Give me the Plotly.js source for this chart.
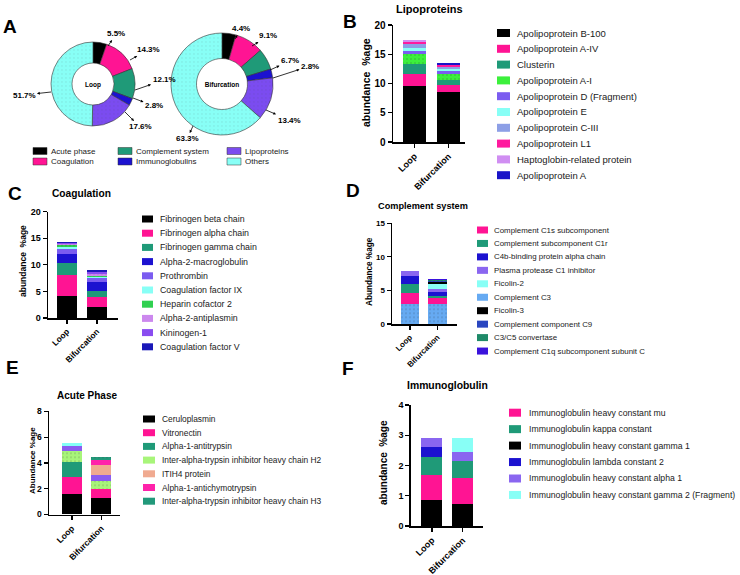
<!DOCTYPE html>
<html><head><meta charset="utf-8">
<script src="https://cdn.plot.ly/plotly-3.0.1.min.js"></script>
<style>html,body{margin:0;padding:0;background:#fff}</style>
</head><body>
<div id="chart" style="width:740px;height:575px"></div>
<script>
// ---------------- DATA ----------------
const groups = ["Loop", "Bifurcation"];

// Panel A (donuts)
const classLabels = ["Acute phase", "Coagulation", "Complement system", "Immunoglobulins", "Lipoproteins", "Others"];
const loopShares = [5.5, 14.3, 12.1, 2.8, 17.6, 51.7];
const bifShares = [4.4, 9.1, 6.7, 2.8, 13.4, 63.3];

// Panel B (Lipoproteins) - stack order bottom to top
const lipoNames = ["Apolipoprotein B-100", "Apolipoprotein A-IV", "Clusterin", "Apolipoprotein A-I", "Apolipoprotein D (Fragment)", "Apolipoprotein E", "Apolipoprotein C-III", "Apolipoprotein L1", "Haptoglobin-related protein", "Apolipoprotein A"];
const lipoLoop = [9.6, 2.0, 1.7, 1.7, 0.5, 0.5, 0.7, 0.4, 0.4, 0.0];
const lipoBif = [8.6, 1.1, 0.9, 1.0, 0.5, 0.4, 0.3, 0.3, 0.1, 0.3];

// Panel C (Coagulation)
const coagNames = ["Fibrinogen beta chain", "Fibrinogen alpha chain", "Fibrinogen gamma chain", "Alpha-2-macroglobulin", "Prothrombin", "Coagulation factor IX", "Heparin cofactor 2", "Alpha-2-antiplasmin", "Kininogen-1", "Coagulation factor V"];
const coagLoop = [4.1, 3.9, 2.3, 1.8, 0.9, 0.4, 0.3, 0.2, 0.1, 0.3];
const coagBif = [2.1, 1.8, 1.1, 1.7, 0.8, 0.2, 0.2, 0.3, 0.5, 0.4];

// Panel D (Complement system) - stack order
const compNames = ["Complement C3", "Complement C1s subcomponent", "Complement subcomponent C1r", "C4b-binding protein alpha chain", "Plasma protease C1 inhibitor", "Ficolin-2", "Ficolin-3", "Complement component C9", "C3/C5 convertase", "Complement C1q subcomponent subunit C"];
const compLoop = [3.0, 1.65, 1.3, 1.25, 0.7, 0, 0, 0, 0, 0];
const compBif = [3.0, 0.8, 0.4, 0.5, 0.45, 0.75, 0.4, 0.15, 0.1, 0.1];
const compLegend = ["Complement C1s subcomponent", "Complement subcomponent C1r", "C4b-binding protein alpha chain", "Plasma protease C1 inhibitor", "Ficolin-2", "Complement C3", "Ficolin-3", "Complement component C9", "C3/C5 convertase", "Complement C1q subcomponent subunit C"];

// Panel E (Acute Phase) - stack order (two segments are unlabelled in the figure)
const acuteNames = ["Ceruloplasmin", "Vitronectin", "Alpha-1-antitrypsin", "Inter-alpha-trypsin inhibitor heavy chain H2", "unlabelled (purple)", "ITIH4 protein", "Alpha-1-antichymotrypsin", "Inter-alpha-trypsin inhibitor heavy chain H3", "unlabelled (cyan)"];
const acuteLoop = [1.55, 1.38, 1.12, 0.85, 0.38, 0, 0, 0, 0.26];
const acuteBif = [1.3, 0.68, 0, 0.65, 0.44, 0.78, 0.38, 0.2, 0];
const acuteLegend = ["Ceruloplasmin", "Vitronectin", "Alpha-1-antitrypsin", "Inter-alpha-trypsin inhibitor heavy chain H2", "ITIH4 protein", "Alpha-1-antichymotrypsin", "Inter-alpha-trypsin inhibitor heavy chain H3"];

// Panel F (Immunoglobulin) - stack order
const immNames = ["Immunoglobulin heavy constant gamma 1", "Immunoglobulin heavy constant mu", "Immunoglobulin kappa constant", "Immunoglobulin lambda constant 2", "Immunoglobulin heavy constant alpha 1", "Immunoglobulin heavy constant gamma 2 (Fragment)"];
const immLoop = [0.86, 0.84, 0.58, 0.33, 0.29, 0];
const immBif = [0.73, 0.87, 0.55, 0, 0.31, 0.44];
const immLegend = ["Immunoglobulin heavy constant mu", "Immunoglobulin kappa constant", "Immunoglobulin heavy constant gamma 1", "Immunoglobulin lambda constant 2", "Immunoglobulin heavy constant alpha 1", "Immunoglobulin heavy constant gamma 2 (Fragment)"];

// ---------------- STYLES ----------------
const pieColors = ['#000000', '#ff1493', '#1f9a78', '#1c12d0', '#7b4cf0', '#88fff6'];
const piePat = ['', '', '', '', '.', '.'];
const lipoColors = ['#000000', '#ff1493', '#1f9a78', '#3cf03c', '#7b5cf0', '#88fff6', '#8d9fe6', '#ff1a9e', '#d08ef2', '#1a14c8'];
const lipoPat = ['', '', '', '.', '', '', '', '', '.', ''];
const coagColors = ['#000000', '#ff1493', '#1f9a78', '#1c12d0', '#7b5cf0', '#88fff6', '#30d050', '#cc88ee', '#8a4cf0', '#1a18b8'];
const coagPat = ['', '', '', '', '', '', '.', '.', '', ''];
const compColors = ['#66aaf2', '#ff1493', '#1f9a78', '#1c12d0', '#8a66f0', '#88fff6', '#000000', '#2a46c0', '#1e8a68', '#3a12dc'];
const compPat = ['.', '', '', '', '', '', '', '.', '.', ''];
const acuteColors = ['#000000', '#ff1493', '#1f9a78', '#a8f57a', '#8a5cf0', '#f0aa90', '#ff22aa', '#22997a', '#84fff6'];
const acutePat = ['', '', '', '.', '', '', '', '.', ''];
const immColors = ['#000000', '#ff1493', '#1f9a78', '#1c12d0', '#8a66f0', '#88fff6'];
const immPat = ['', '', '', '', '', ''];

const FONT = '"Liberation Sans", Arial, Helvetica, sans-serif';
const PW = 740, PH = 575;
const X = p => p / PW;
const Y = p => 1 - p / PH;

const traces = [];
const shapes = [];
const annotations = [];
const layout = {
  width: PW, height: PH, margin: {l: 0, r: 0, t: 0, b: 0},
  paper_bgcolor: '#fff', plot_bgcolor: 'rgba(0,0,0,0)',
  showlegend: false, barmode: 'stack', bargap: 0.3,
  font: {family: FONT, color: '#000'},
  shapes: shapes, annotations: annotations
};

// ---------------- PANEL A ----------------
const pies = [
  {vals: loopShares, title: 'Loop', cx: 93, cy: 84, r: 42},
  {vals: bifShares, title: 'Bifurcation', cx: 222, cy: 84, r: 51}
];
pies.forEach(p => {
  traces.push({
    type: 'pie', labels: classLabels, values: p.vals, sort: false, direction: 'clockwise', rotation: 0,
    hole: 0.5, textinfo: 'none', hoverinfo: 'label+value',
    marker: {colors: pieColors, line: {color: '#333', width: 0.6},
      pattern: {shape: piePat, bgcolor: pieColors, fgcolor: '#444', fgopacity: 0.15, size: 4, solidity: 0.1}},
    domain: {x: [X(p.cx - p.r), X(p.cx + p.r)], y: [Y(p.cy + p.r), Y(p.cy - p.r)]},
    title: {text: p.title, position: 'middle center', font: {size: 6.5, weight: 'bold', family: FONT, color: '#000'}}
  });
});
// slice-label leader arrows: [slice point px, label centre px]
const loopLabelPos = [[108, 46, 116, 34], [130, 60, 148, 50], [135, 90, 164, 80], [133, 98, 154, 106], [125, 112, 140, 127], [51, 92, 24, 95]];
const bifLabelPos = [[235, 39, 241, 29], [252, 46, 268, 36], [270, 70, 290, 61], [273, 78, 310, 66], [266, 110, 289, 120], [193, 126, 187, 139]];
[[loopShares, loopLabelPos], [bifShares, bifLabelPos]].forEach(([vals, pos]) => {
  vals.forEach((v, i) => {
    const q = pos[i];
    annotations.push({xref: 'paper', yref: 'paper', x: X(q[0]), y: Y(q[1]), ax: q[2] - q[0], ay: q[3] - q[1],
      axref: 'pixel', ayref: 'pixel', text: '<b>' + v.toFixed(1) + '%</b>', showarrow: true, arrowside: 'start',
      startarrowhead: 2, startarrowsize: 0.7, arrowwidth: 0.8, arrowcolor: '#000', standoff: 0, startstandoff: 0,
      font: {size: 8, color: '#000'}});
  });
});
// donut legend (3 columns x 2 rows)
const aLegCols = [33, 118, 227];
classLabels.forEach((lab, i) => {
  const col = Math.floor(i / 2), row = i % 2;
  const sx = aLegCols[col], cy = 151 + row * 10.5;
  shapes.push({type: 'rect', xref: 'paper', yref: 'paper', x0: X(sx), x1: X(sx + 14), y0: Y(cy + 3.5), y1: Y(cy - 3.5), fillcolor: pieColors[i], line: {width: 0.5, color: '#333'}});
  annotations.push({xref: 'paper', yref: 'paper', x: X(sx + 16), y: Y(cy), text: lab, showarrow: false, xanchor: 'left', yanchor: 'middle', font: {size: 8, color: '#1a1a1a'}});
});

// ---------------- BAR PANELS ----------------
const panels = [
  {ax: '', names: lipoNames, loop: lipoLoop, bif: lipoBif, colors: lipoColors, pat: lipoPat, legend: lipoNames,
   xpx: [393, 465], ypx: [25, 142], xr: [-0.63, 1.49], yr: [0, 20], dtick: 5, tickfs: 10, xtickfs: 9,
   title: 'Lipoproteins', tpos: [430, 9], tfs: 11, ytitle: 'abundance\u00a0\u00a0%age', ytpos: [366, 83], ytfs: 10.5,
   leg: {sx: 497, sw: 13, sh: 8, tx: 515, y0: 33, dy: 15.8, fs: 9.5}},
  {ax: '2', names: coagNames, loop: coagLoop, bif: coagBif, colors: coagColors, pat: coagPat, legend: coagNames,
   xpx: [48, 118], ypx: [211.5, 318], xr: [-0.63, 1.7], yr: [0, 20], dtick: 5, tickfs: 9, xtickfs: 8.3,
   title: 'Coagulation', tpos: [81, 194], tfs: 10.2, ytitle: 'abundance\u00a0\u00a0%age', ytpos: [23, 261], ytfs: 8.5,
   leg: {sx: 142, sw: 11, sh: 7, tx: 158, y0: 219, dy: 14.2, fs: 8.8}},
  {ax: '3', names: compNames, loop: compLoop, bif: compBif, colors: compColors, pat: compPat, legend: compLegend,
   xpx: [392, 457], ypx: [223.3, 324], xr: [-0.65, 1.71], yr: [0, 15], dtick: 5, tickfs: 8, xtickfs: 8,
   title: 'Complement system', tpos: [423, 206], tfs: 9.2, ytitle: 'Abundance %age', ytpos: [369, 272], ytfs: 8.2,
   leg: {sx: 477, sw: 11, sh: 7, tx: 492, y0: 230, dy: 13.45, fs: 7.9}},
  {ax: '4', names: acuteNames, loop: acuteLoop, bif: acuteBif, colors: acuteColors, pat: acutePat, legend: acuteLegend,
   xpx: [49, 120], ypx: [411.3, 514.5], xr: [-0.78, 1.63], yr: [0, 8], dtick: 2, tickfs: 8.5, xtickfs: 8.5,
   title: 'Acute Phase', tpos: [87, 395], tfs: 10, ytitle: 'Abundance %age', ytpos: [32, 461], ytfs: 8,
   leg: {sx: 143, sw: 12, sh: 7, tx: 160, y0: 419, dy: 13.7, fs: 8.4}},
  {ax: '5', names: immNames, loop: immLoop, bif: immBif, colors: immColors, pat: immPat, legend: immLegend,
   xpx: [410.7, 483], ypx: [405, 526], xr: [-0.69, 1.66], yr: [0, 4], dtick: 1, tickfs: 9, xtickfs: 9,
   title: 'Immunoglobulin', tpos: [447, 385], tfs: 10.4, ytitle: 'abundance\u00a0\u00a0%age', ytpos: [384, 463], ytfs: 10,
   leg: {sx: 509, sw: 12, sh: 8, tx: 527, y0: 412.7, dy: 16.45, fs: 8.7}}
];

panels.forEach(p => {
  const xa = 'x' + p.ax, ya = 'y' + p.ax;
  layout['xaxis' + p.ax] = {
    domain: [X(p.xpx[0]), X(p.xpx[1])], anchor: ya, type: 'category', range: p.xr,
    showline: true, linecolor: '#000', linewidth: 1.5, ticks: 'outside', ticklen: 4, tickwidth: 1.2, tickcolor: '#000',
    tickangle: -45, tickfont: {size: p.xtickfs, weight: 'bold', color: '#000', family: FONT},
    showgrid: false, zeroline: false, fixedrange: true
  };
  layout['yaxis' + p.ax] = {
    domain: [Y(p.ypx[1]), Y(p.ypx[0])], anchor: xa, range: p.yr, tick0: 0, dtick: p.dtick,
    showline: true, linecolor: '#000', linewidth: 1.5, ticks: 'outside', ticklen: 4, tickwidth: 1.2, tickcolor: '#000',
    tickfont: {size: p.tickfs, weight: 'bold', color: '#000', family: FONT},
    showgrid: false, zeroline: false, fixedrange: true
  };
  p.names.forEach((n, i) => {
    const mk = {color: p.colors[i], line: {width: 0}};
    if (p.pat[i]) mk.pattern = {shape: p.pat[i], bgcolor: p.colors[i], fgcolor: '#222', fgopacity: 0.3, size: 4, solidity: 0.12};
    traces.push({type: 'bar', x: groups, y: [p.loop[i], p.bif[i]], name: n, marker: mk, width: 0.68,
      xaxis: xa, yaxis: ya, hoverinfo: 'name+y'});
  });
  // panel title
  annotations.push({xref: 'paper', yref: 'paper', x: X(p.tpos[0]), y: Y(p.tpos[1]), text: '<b>' + p.title + '</b>',
    showarrow: false, xanchor: 'center', yanchor: 'middle', font: {size: p.tfs, color: '#000'}});
  // y-axis title
  annotations.push({xref: 'paper', yref: 'paper', x: X(p.ytpos[0]), y: Y(p.ytpos[1]), text: '<b>' + p.ytitle + '</b>',
    textangle: -90, showarrow: false, xanchor: 'center', yanchor: 'middle', font: {size: p.ytfs, color: '#000'}});
  // legend (drawn from the same name/colour arrays)
  const L = p.leg;
  p.legend.forEach((n, j) => {
    const idx = p.names.indexOf(n);
    const cy = L.y0 + j * L.dy;
    shapes.push({type: 'rect', xref: 'paper', yref: 'paper', x0: X(L.sx), x1: X(L.sx + L.sw), y0: Y(cy + L.sh / 2), y1: Y(cy - L.sh / 2),
      fillcolor: p.colors[idx], line: {width: 0}});
    annotations.push({xref: 'paper', yref: 'paper', x: X(L.tx), y: Y(cy), text: n, showarrow: false,
      xanchor: 'left', yanchor: 'middle', font: {size: L.fs, color: '#1a1a1a'}});
  });
});

// panel letters
const panelLetters = [['A', 10, 26], ['B', 350, 22], ['C', 15, 193], ['D', 353, 191], ['E', 12, 367], ['F', 348, 368]];
panelLetters.forEach(l => {
  annotations.push({xref: 'paper', yref: 'paper', x: X(l[1]), y: Y(l[2]), text: '<b>' + l[0] + '</b>', showarrow: false,
    xanchor: 'center', yanchor: 'middle', font: {size: 19, color: '#000'}});
});

Plotly.newPlot('chart', traces, layout, {staticPlot: true, displayModeBar: false});
</script>
</body></html>
